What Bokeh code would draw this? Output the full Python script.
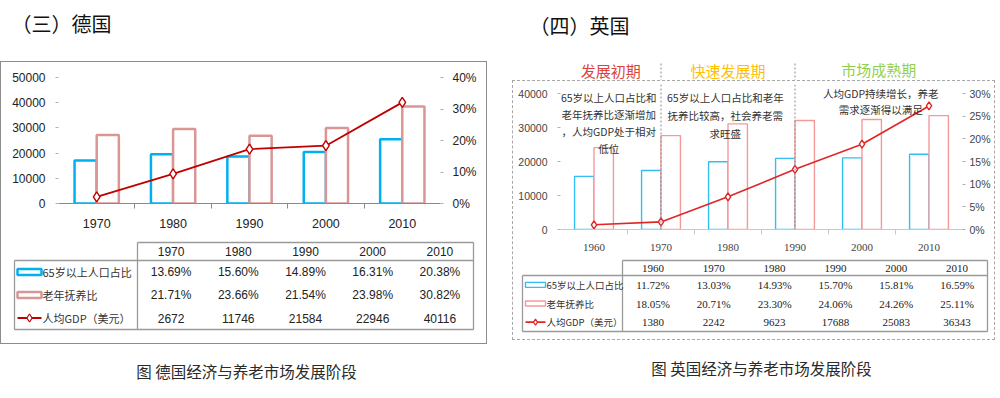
import numpy as np
from bokeh.plotting import figure
from bokeh.models import (Range1d, LinearAxis, FixedTicker, PrintfTickFormatter, Span,
                          ColumnDataSource, CustomJSTickFormatter)
from bokeh.transform import dodge
from bokeh.layouts import row, column
from bokeh.core.properties import value
from bokeh.embed import file_html
from bokeh.resources import INLINE

# ---------------- data ----------------
de_years = ["1970", "1980", "1990", "2000", "2010"]
de_old65 = [13.69, 15.60, 14.89, 16.31, 20.38]
de_dep = [21.71, 23.66, 21.54, 23.98, 30.82]
de_gdp = [2672, 11746, 21584, 22946, 40116]
de_gdp_ticks = [0, 10000, 20000, 30000, 40000, 50000]
de_pct_ticks = [0, 10, 20, 30, 40]

uk_years = ["1960", "1970", "1980", "1990", "2000", "2010"]
uk_old65 = [11.72, 13.03, 14.93, 15.70, 15.81, 16.59]
uk_dep = [18.05, 20.71, 23.30, 24.06, 24.26, 25.11]
uk_gdp = [1380, 2242, 9623, 17688, 25083, 36343]
uk_gdp_ticks = [0, 10000, 20000, 30000, 40000]
uk_pct_ticks = [0, 5, 10, 15, 20, 25, 30]
uk_phase_bounds = ["1970", "1990"]
uk_phases = ["发展初期", "快速发展期", "市场成熟期"]
uk_notes = [
    ["65岁以上人口占比和", "老年抚养比逐渐增加", "，人均GDP处于相对", "低位"],
    ["65岁以上人口占比和老年", "抚养比较高，社会养老需", "求旺盛"],
    ["人均GDP持续增长，养老", "需求逐渐得以满足"],
]
series_labels = ["65岁以上人口占比", "老年抚养比", "人均GDP（美元）"]
de_title = "（三）德国"
uk_title = "（四）英国"
de_caption = "图 德国经济与养老市场发展阶段"
uk_caption = "图 英国经济与养老市场发展阶段"

# ---------------- styles ----------------
CJK = value("Noto Sans CJK SC")

DE = dict(blue="#00B0F0", pink="#D99694", red="#C00000", bar_lw=2.5, bw=0.29,
          line_lw=1.8, msize=10, axis_font="12px", xfont="12.5px", lab_color="#222222",
          xaxis_color="#8a8a8a", num_font="Liberation Sans", tab_font="12px", leg_font="11px")
UK = dict(blue="#33BDF0", pink="#F29A9A", red="#E02626", bar_lw=1.4, bw=0.29,
          line_lw=1.6, msize=8, axis_font="10.5px", xfont="11px", lab_color="#444444",
          xaxis_color="#c8c8c8", num_font="Liberation Serif", tab_font="11px", leg_font="9.5px")


def canvas(w, h):
    p = figure(width=w, height=h, x_range=Range1d(0, w), y_range=Range1d(h, 0),
               output_backend="svg", toolbar_location=None, min_border=0,
               x_axis_type=None, y_axis_type=None)
    p.xgrid.visible = False
    p.ygrid.visible = False
    p.outline_line_color = None
    p.frame_align = False
    return p


def chart(years, old65, dep, gdp, gdp_ticks, pct_ticks, gdp_end, pct_end, W, H, mb, st):
    n = len(years)
    src = ColumnDataSource(dict(x=list(range(n)), old65=old65, dep=dep, gdp=gdp))
    p = figure(width=W, height=H, x_range=Range1d(-0.5, n - 0.5), y_range=Range1d(0, gdp_end),
               output_backend="svg", toolbar_location=None,
               min_border_left=mb[0], min_border_right=mb[1],
               min_border_top=mb[2], min_border_bottom=mb[3])
    p.frame_align = False
    p.extra_y_ranges = {"pct": Range1d(0, pct_end)}
    p.xgrid.visible = False
    p.ygrid.visible = False
    p.outline_line_color = None
    bw = st["bw"]
    p.vbar(x=dodge("x", -bw / 2), top="old65", width=bw, source=src, y_range_name="pct",
           fill_color="white", line_color=st["blue"], line_width=st["bar_lw"])
    p.vbar(x=dodge("x", bw / 2), top="dep", width=bw, source=src, y_range_name="pct",
           fill_color="white", line_color=st["pink"], line_width=st["bar_lw"])
    p.line("x", "gdp", source=src, line_color=st["red"], line_width=st["line_lw"])
    p.scatter("x", "gdp", source=src, marker="diamond", size=st["msize"],
              fill_color="white", line_color=st["red"], line_width=1.4)

    xa = p.xaxis[0]
    xa.ticker = FixedTicker(ticks=list(range(n)), minor_ticks=[i + 0.5 for i in range(n - 1)])
    xa.formatter = CustomJSTickFormatter(args=dict(labels=years),
                                         code="return labels[Math.round(tick)] || '';")
    xa.axis_line_color = st["xaxis_color"]
    xa.major_tick_line_color = None
    xa.major_tick_out = 0
    xa.major_tick_in = 0
    xa.minor_tick_line_color = st["xaxis_color"]
    xa.minor_tick_out = 5
    xa.minor_tick_in = 0
    xa.major_label_text_font = st["num_font"]
    xa.major_label_text_font_size = st["xfont"]
    xa.major_label_text_color = st["lab_color"]
    xa.major_label_standoff = st["x_standoff"]

    ya = p.yaxis[0]
    ya.ticker = FixedTicker(ticks=gdp_ticks)
    ya.formatter = PrintfTickFormatter(format="%d")
    ra = LinearAxis(y_range_name="pct", ticker=FixedTicker(ticks=pct_ticks),
                    formatter=PrintfTickFormatter(format="%d%%"))
    p.add_layout(ra, "right")
    for a, so in ((ya, st["l_standoff"]), (ra, st["r_standoff"])):
        a.axis_line_color = None
        a.major_tick_line_color = "#b0b0b0"
        a.major_tick_out = 3
        a.major_tick_in = 0
        a.minor_tick_line_color = None
        a.major_label_text_font = "Liberation Sans"
        a.major_label_text_font_size = st["axis_font"]
        a.major_label_text_color = st["lab_color"]
        a.major_label_standoff = so
    return p


def table(W, H, years, rows, geom, st, sw_geom):
    L, D, R, T, Hh, B = geom
    p = canvas(W, H)
    p.segment(x0=[D, L, D, L, R, L], y0=[T, Hh, T, Hh, T, B],
              x1=[R, R, D, L, R, R], y1=[T, Hh, B, B, B, B],
              line_color="#9a9a9a", line_width=1.3)
    n = len(years)
    cw = (R - D) / n
    cx = [D + (j + 0.5) * cw for j in range(n)]
    nf = value(st["num_font"])
    p.text(x=cx, y=[(T + Hh) / 2] * n, text=years, text_align="center", text_baseline="middle",
           text_font=nf, text_font_size=st["tab_font"], text_color="#222222")
    rh = (B - Hh) / 3
    ry = [Hh + (k + 0.5) * rh for k in range(3)]
    for k, vals in enumerate(rows):
        p.text(x=cx, y=[ry[k]] * n, text=vals, text_align="center", text_baseline="middle",
               text_font=nf, text_font_size=st["tab_font"], text_color="#222222")
    sx, sww, shh, lx = sw_geom
    p.rect(x=[sx, sx], y=ry[:2], width=sww, height=shh, fill_color="white",
           line_color=[st["blue"], st["pink"]], line_width=st["bar_lw"])
    p.line(x=[sx - sww / 2, sx + sww / 2], y=[ry[2], ry[2]], line_color=st["red"],
           line_width=st["line_lw"])
    p.scatter(x=[sx], y=[ry[2]], marker="diamond", size=st["msize"] - 2, fill_color="white",
              line_color=st["red"], line_width=1.2)
    p.text(x=[lx] * 3, y=ry, text=series_labels, text_align="left", text_baseline="middle",
           text_font=CJK, text_font_size=st["leg_font"], text_color="#333333")
    return p


# ================= Germany (page x 0..498) =================
DE.update(x_standoff=10, l_standoff=10, r_standoff=9)
t_de = canvas(498, 61)
t_de.text(x=[11], y=[23], text=[de_title], text_align="left", text_baseline="middle",
          text_font=CJK, text_font_size="20px", text_color="#111111")

DE_W, DE_H, DE_MB = 485, 172, (57, 46, 15, 31)
chart_de = chart(de_years, de_old65, de_dep, de_gdp, de_gdp_ticks, de_pct_ticks,
                 de_gdp_ticks[-1], de_pct_ticks[-1], DE_W, DE_H, DE_MB, DE)
de_rows = [[f"{v:.2f}%" for v in de_old65], [f"{v:.2f}%" for v in de_dep],
           [str(v) for v in de_gdp]]
table_de = table(DE_W, 109, de_years, de_rows, (13, 136, 472, 8, 26, 95), DE, (28, 24, 6, 41))
box_de = column(chart_de, table_de, styles={"border": "1px solid #8c8c8c"})

cap_de = canvas(498, 52)
cap_de.text(x=[246], y=[26], text=[de_caption], text_align="center", text_baseline="middle",
            text_font=CJK, text_font_size="15.5px", text_color="#2a2a2a")
left = column(t_de, box_de, cap_de)

# ================= UK (page x 498..998) =================
UK.update(x_standoff=9, l_standoff=10, r_standoff=4)
UK_W, UK_H, UK_MB = 481, 172, (47, 32, 3, 24)
uk_frame_px = UK_H - UK_MB[2] - UK_MB[3]          # 145 px
uk_axis_px = 136                                  # px between 0 and top tick
uk_gdp_end = uk_gdp_ticks[-1] * uk_frame_px / uk_axis_px
uk_pct_end = uk_pct_ticks[-1] * uk_frame_px / uk_axis_px
chart_uk = chart(uk_years, uk_old65, uk_dep, uk_gdp, uk_gdp_ticks, uk_pct_ticks,
                 uk_gdp_end, uk_pct_end, UK_W, UK_H, UK_MB, UK)
bounds_idx = [uk_years.index(y) for y in uk_phase_bounds]
for b in bounds_idx:
    chart_uk.add_layout(Span(location=b, dimension="height", line_color="#8a8a8a",
                             line_dash="2 2", line_width=1))
gpp = uk_gdp_end / uk_frame_px   # gdp units per pixel
note_anchor = [(0.22, 132, 17), (1.96, 132, 18), (4.28, 136, 16)]
for lines, (nx, top_px, pitch) in zip(uk_notes, note_anchor):
    ys = [(top_px - k * pitch) * gpp for k in range(len(lines))]
    chart_uk.text(x=[nx] * len(lines), y=ys, text=lines, text_align="center",
                  text_baseline="middle", text_font=CJK, text_font_size="10.5px",
                  text_color="#333333")

uk_rows = [[f"{v:.2f}%" for v in uk_old65], [f"{v:.2f}%" for v in uk_dep],
           [str(v) for v in uk_gdp]]
table_uk = table(UK_W, 86, uk_years, uk_rows, (9, 109, 474, 7, 22, 78), UK, (22, 20, 5, 33))
box_uk = column(chart_uk, table_uk, styles={"border": "1px dashed #a8a8a8"},
                margin=(0, 0, 0, 14))

# header canvas with title, phase labels and phase boundary marks
t_uk = canvas(500, 80)
t_uk.text(x=[31], y=[25], text=[uk_title], text_align="left", text_baseline="middle",
          text_font=CJK, text_font_size="20px", text_color="#111111")
fl = 14 + 1 + UK_MB[0]
cat_w = (UK_W - UK_MB[0] - UK_MB[1]) / len(uk_years)
bx = [fl + (b + 0.5) * cat_w for b in bounds_idx]
edges = [fl] + bx + [fl + cat_w * len(uk_years)]
pcx = [(edges[i] + edges[i + 1]) / 2 for i in range(3)]
t_uk.text(x=pcx, y=[70, 70, 69], text=uk_phases, text_align="center", text_baseline="middle",
          text_font=CJK, text_font_size="15px",
          text_color=["#D9443C", "#FFC000", "#92D050"])
t_uk.segment(x0=bx, y0=[63] * 2, x1=bx, y1=[80] * 2, line_color="#8a8a8a",
             line_dash="2 2", line_width=1)

cap_uk = canvas(500, 56)
cap_uk.text(x=[263], y=[27], text=[uk_caption], text_align="center", text_baseline="middle",
            text_font=CJK, text_font_size="15.5px", text_color="#2a2a2a")
right = column(t_uk, box_uk, cap_uk)

root = row(left, right)
open("out.html", "w").write(file_html(root, INLINE))
